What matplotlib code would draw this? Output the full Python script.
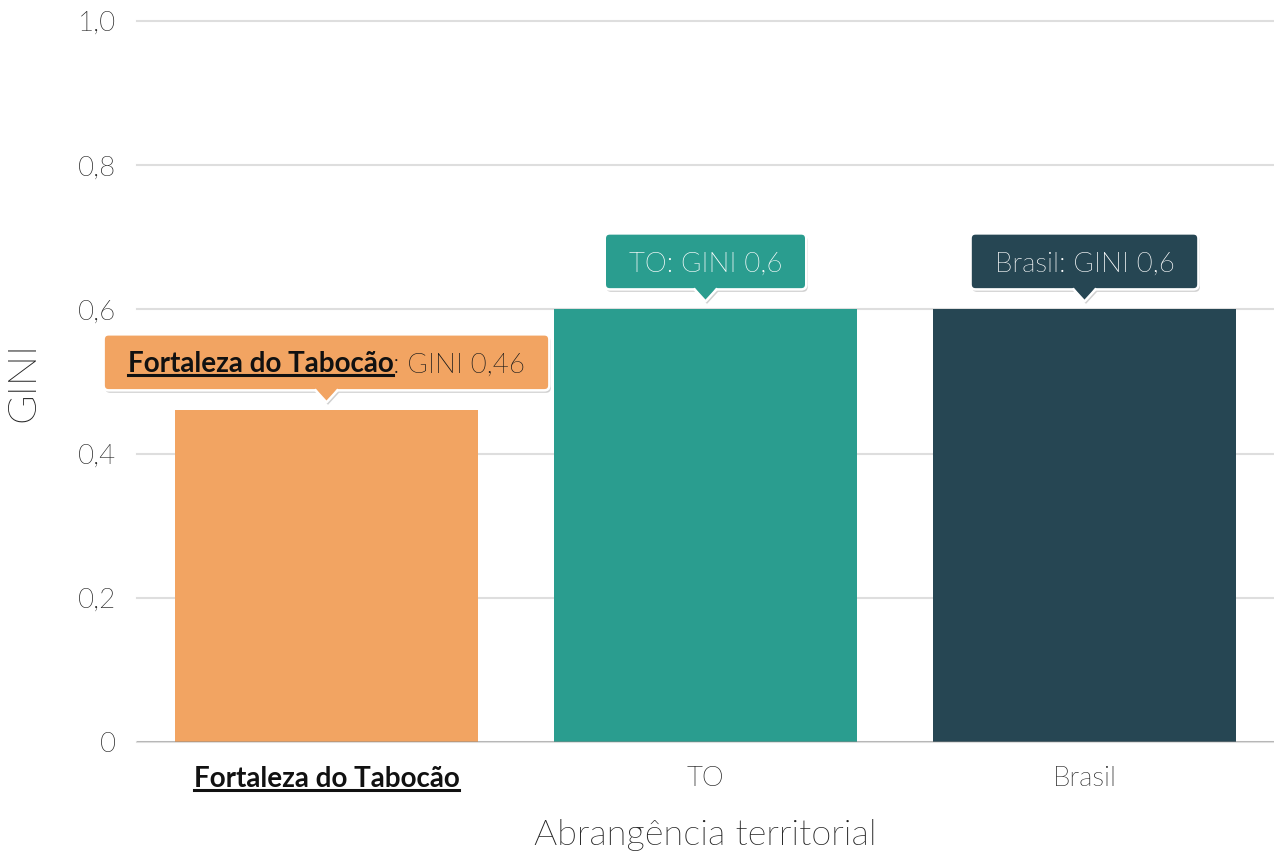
import os
import matplotlib
matplotlib.use('Agg')
import matplotlib.pyplot as plt
import matplotlib.font_manager as fm
from matplotlib.font_manager import FontProperties
from matplotlib.patches import FancyBboxPatch, Polygon
from matplotlib.lines import Line2D
from matplotlib.transforms import IdentityTransform
import numpy as np

categories = ['Fortaleza do Tabocão', 'TO', 'Brasil']
gini = [0.46, 0.6, 0.6]
value_labels = ['0,46', '0,6', '0,6']
colors = ['#F2A462', '#2A9D8F', '#264653']
yticks = [0, 0.2, 0.4, 0.6, 0.8, 1.0]
ytick_labels = ['0', '0,2', '0,4', '0,6', '0,8', '1,0']
highlight = 0

plt.rcParams['font.family'] = ['Lato', 'DejaVu Sans']

# locate Lato Light file explicitly
light_path = None
for f in fm.fontManager.ttflist:
    b = os.path.basename(f.fname).lower()
    if 'lato' in b and 'light' in b and 'italic' not in b:
        light_path = f.fname
        break


def light(size):
    if light_path:
        return FontProperties(fname=light_path, size=size)
    return FontProperties(family=['Lato', 'DejaVu Sans'], weight='normal', size=size)


def bold(size):
    return FontProperties(family=['Lato', 'DejaVu Sans'], weight='bold', size=size)


TXT = '#222222'
W, H = 1274, 859
fig = plt.figure(figsize=(W / 100, H / 100), dpi=100)
ax = fig.add_axes([137 / W, 1 - 742 / H, 1 - 137 / W, (742 - 21) / H])
x = np.arange(len(categories))
ax.bar(x, gini, width=0.8, color=colors, zorder=2)
ax.set_xlim(-0.5, 2.5)
ax.set_ylim(0, 1.0)
ax.set_yticks(yticks)
ax.set_yticklabels(ytick_labels, fontproperties=light(20), color=TXT)
ax.set_xticks(x)
ax.set_xticklabels(categories, fontproperties=light(20), color=TXT)
ax.get_xticklabels()[highlight].set_fontproperties(bold(20))
ax.get_xticklabels()[highlight].set_color('#111111')
ax.tick_params(axis='both', length=0)
ax.tick_params(axis='y', pad=15)
ax.tick_params(axis='x', pad=17)
for s in ax.spines.values():
    s.set_visible(False)
ax.yaxis.grid(True, color='#dedede', linewidth=1.5, zorder=0)
ax.set_axisbelow(True)
for gl in ax.get_ygridlines():
    gl.set_clip_on(False)
ax.axhline(0, color='#888888', alpha=0.5, linewidth=2, zorder=3)

ax.set_ylabel('GINI', fontproperties=light(29), color=TXT, labelpad=26)
ax.set_xlabel('Abrangência territorial', fontproperties=light(26), color=TXT, labelpad=20)

fig.canvas.draw()
renderer = fig.canvas.get_renderer()
ident = IdentityTransform()


def baseline_of(text_obj):
    bb = text_obj.get_window_extent(renderer)
    _, _, d = renderer.get_text_width_height_descent('lp', text_obj.get_fontproperties(), ismath=False)
    return bb, bb.y0 + d


# underline highlighted x tick label
tl = ax.get_xticklabels()[highlight]
bb, base = baseline_of(tl)
fig.add_artist(Line2D([bb.x0, bb.x1], [base - 3, base - 3], color='#111111', lw=2.2,
                      transform=ident))

# tooltips
tip_fs = 20
box_h = 56
pad_x = 24
for i in range(len(categories)):
    xd, yd = ax.transData.transform((x[i], gini[i]))
    tip_y = yd + 8
    box_bottom = yd + 20
    box_top = box_bottom + box_h
    if i == highlight:
        t1 = fig.text(0, 0, categories[i], fontproperties=bold(tip_fs), color='#111111',
                      transform=ident, va='baseline', ha='left', zorder=12)
        t2 = fig.text(0, 0, ': GINI ' + value_labels[i], fontproperties=light(tip_fs),
                      color='#1a1a1a', transform=ident, va='baseline', ha='left', zorder=12)
        parts = [t1, t2]
    else:
        t1 = fig.text(0, 0, categories[i] + ': GINI ' + value_labels[i],
                      fontproperties=light(tip_fs), color='white', transform=ident,
                      va='baseline', ha='left', zorder=12)
        parts = [t1]
    widths = [p.get_window_extent(renderer).width for p in parts]
    tw = sum(widths)
    bw = tw + 2 * pad_x
    left = xd - bw / 2
    cap = 0.72 * tip_fs * 100 / 72
    base_y = (box_bottom + box_top) / 2 - cap / 2
    cx = left + pad_x
    for p, w in zip(parts, widths):
        p.set_position((cx, base_y))
        cx += w
    if i == highlight:
        fig.add_artist(Line2D([left + pad_x, left + pad_x + widths[0]], [base_y - 3, base_y - 3],
                              color='#111111', lw=2.2, transform=ident, zorder=12))
    # shadow
    sh = FancyBboxPatch((left + 1.5, box_bottom - 2.5), bw, box_h,
                        boxstyle='round,pad=0,rounding_size=5', transform=ident,
                        facecolor='#000000', alpha=0.18, edgecolor='none', zorder=9)
    fig.add_artist(sh)
    sh_tri = Polygon([(xd - 11 + 1.5, box_bottom - 2.5), (xd + 11 + 1.5, box_bottom - 2.5),
                      (xd + 1.5, tip_y - 2.5)], closed=True, transform=ident,
                     facecolor='#000000', alpha=0.18, edgecolor='none', zorder=9)
    fig.add_artist(sh_tri)
    box = FancyBboxPatch((left, box_bottom), bw, box_h,
                         boxstyle='round,pad=0,rounding_size=5', transform=ident,
                         facecolor=colors[i], edgecolor='white', lw=1.8, zorder=10)
    fig.add_artist(box)
    tri = Polygon([(xd - 11, box_bottom + 2), (xd + 11, box_bottom + 2), (xd, tip_y)],
                  closed=True, transform=ident, facecolor=colors[i], edgecolor='none', zorder=11)
    fig.add_artist(tri)
    fig.add_artist(Line2D([xd - 11, xd, xd + 11], [box_bottom, tip_y, box_bottom], color='white',
                          lw=1.8, transform=ident, zorder=11))

fig.savefig('out.png', dpi=100)
